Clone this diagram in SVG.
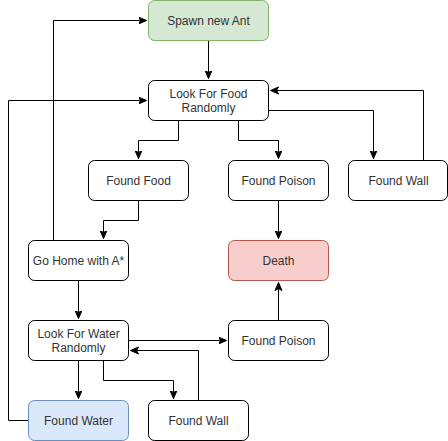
<svg xmlns="http://www.w3.org/2000/svg" width="448" height="441" viewBox="0 0 448 441">
<style>
.n rect{fill:#fff;stroke:#000;stroke-width:1}
.n text{font-family:"Liberation Sans",Arial,Helvetica,sans-serif;font-size:12px;fill:#333;text-anchor:middle}
.e path{fill:none;stroke:#000;stroke-width:1}
</style>
<defs>
<marker id="a" markerUnits="userSpaceOnUse" markerWidth="10" markerHeight="10" viewBox="0 0 10 10" refX="8" refY="5" orient="auto">
<path d="M0,1.5 L8,5 L0,8.5 L2,5 Z" fill="#000" stroke="#000" stroke-width="1"/>
</marker>
</defs>
<rect width="448" height="441" fill="#fff"/>
<g transform="translate(0.5,0.5)">
<g class="e">
<path d="M208 40 V78" marker-end="url(#a)"/>
<path d="M423 160 V90 H270" marker-end="url(#a)"/>
<path d="M268 110 H373 V158" marker-end="url(#a)"/>
<path d="M178 120 V140 H138 V158" marker-end="url(#a)"/>
<path d="M238 120 V140 H278 V158" marker-end="url(#a)"/>
<path d="M138 200 V220 H103 V238" marker-end="url(#a)"/>
<path d="M278 200 V238" marker-end="url(#a)"/>
<path d="M53 240 V20 H146" marker-end="url(#a)"/>
<path d="M28 420 H8 V100 H146" marker-end="url(#a)"/>
<path d="M78 280 V318" marker-end="url(#a)"/>
<path d="M128 340 H226" marker-end="url(#a)"/>
<path d="M278 320 V282" marker-end="url(#a)"/>
<path d="M78 360 V398" marker-end="url(#a)"/>
<path d="M103 360 V380 H173 V398" marker-end="url(#a)"/>
<path d="M198 400 V350 H130" marker-end="url(#a)"/>
</g>
<g id="spawn" class="n"><rect x="148" y="0" width="120" height="40" rx="6" style="fill:#d5e8d4;stroke:#82b366"/><text x="208" y="24">Spawn new Ant</text></g>
<g id="lookfood" class="n"><rect x="148" y="80" width="120" height="40" rx="6"/><text x="208" y="97">Look For Food</text><text x="208" y="111.5">Randomly</text></g>
<g id="foundfood" class="n"><rect x="88" y="160" width="100" height="40" rx="6"/><text x="138" y="184">Found Food</text></g>
<g id="foundpoison1" class="n"><rect x="228" y="160" width="100" height="40" rx="6"/><text x="278" y="184">Found Poison</text></g>
<g id="foundwall1" class="n"><rect x="348" y="160" width="99" height="40" rx="6"/><text x="398" y="184">Found Wall</text></g>
<g id="gohome" class="n"><rect x="28" y="240" width="100" height="40" rx="6"/><text x="78" y="264">Go Home with A*</text></g>
<g id="death" class="n"><rect x="228" y="240" width="100" height="40" rx="6" style="fill:#f8cecc;stroke:#b85450"/><text x="278" y="264">Death</text></g>
<g id="lookwater" class="n"><rect x="28" y="320" width="100" height="40" rx="6"/><text x="78" y="337">Look For Water</text><text x="78" y="351.5">Randomly</text></g>
<g id="foundpoison2" class="n"><rect x="228" y="320" width="100" height="40" rx="6"/><text x="278" y="344">Found Poison</text></g>
<g id="foundwater" class="n"><rect x="28" y="400" width="100" height="40" rx="6" style="fill:#dae8fc;stroke:#6c8ebf"/><text x="78" y="424">Found Water</text></g>
<g id="foundwall2" class="n"><rect x="148" y="400" width="100" height="40" rx="6"/><text x="198" y="424">Found Wall</text></g>
</g>
</svg>
